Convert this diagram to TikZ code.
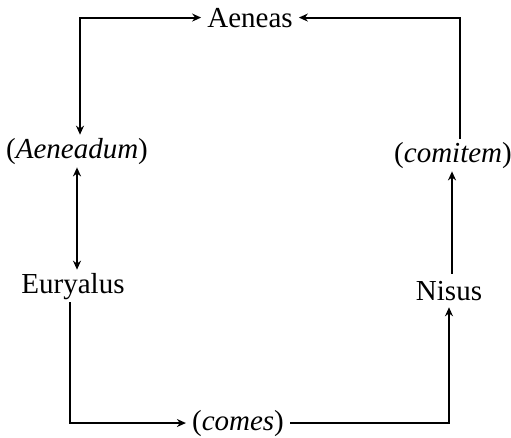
\documentclass[tikz,border=0pt]{standalone}
\usepackage{fontspec}
\setmainfont{Liberation Serif}
\usetikzlibrary{arrows.meta}
\begin{document}
\begin{tikzpicture}[x=1pt,y=-1pt,
  lbl/.style={anchor=base,inner sep=3pt,font=\fontsize{29}{34}\selectfont},
  tip/.tip={Stealth[length=9pt,width=8pt]},
  conn/.style={line width=2pt,-tip},
  conn2/.style={line width=2pt,tip-tip}]
\useasboundingbox (0,0) rectangle (511,437);
\node[lbl,inner xsep=6pt] (aeneas) at (250,27) {Aeneas};
\node[lbl] (aeneadum) at (77,158) {(\textit{Aeneadum})};
\node[lbl] (comitem) at (453,162) {(\textit{comitem})};
\node[lbl] (euryalus) at (73,293) {Euryalus};
\node[lbl,outer sep=4pt] (nisus) at (449,300) {Nisus};
\node[lbl,inner xsep=6pt] (comes) at (238,430) {(\textit{comes})};
\draw[conn2] ([xshift=3pt]aeneadum.north) |- (aeneas.west);
\draw[conn] ([xshift=7pt]comitem.north) |- (aeneas.east);
\draw[conn] ([xshift=3pt]nisus.north) -- ([xshift=3pt]nisus.north |- comitem.south);
\draw[conn2] (aeneadum.south) -- (aeneadum.south |- euryalus.north);
\draw[conn] ([xshift=-3pt]euryalus.south) |- (comes.west);
\draw[conn] (comes.east) -| (nisus.south);
\end{tikzpicture}
\end{document}
